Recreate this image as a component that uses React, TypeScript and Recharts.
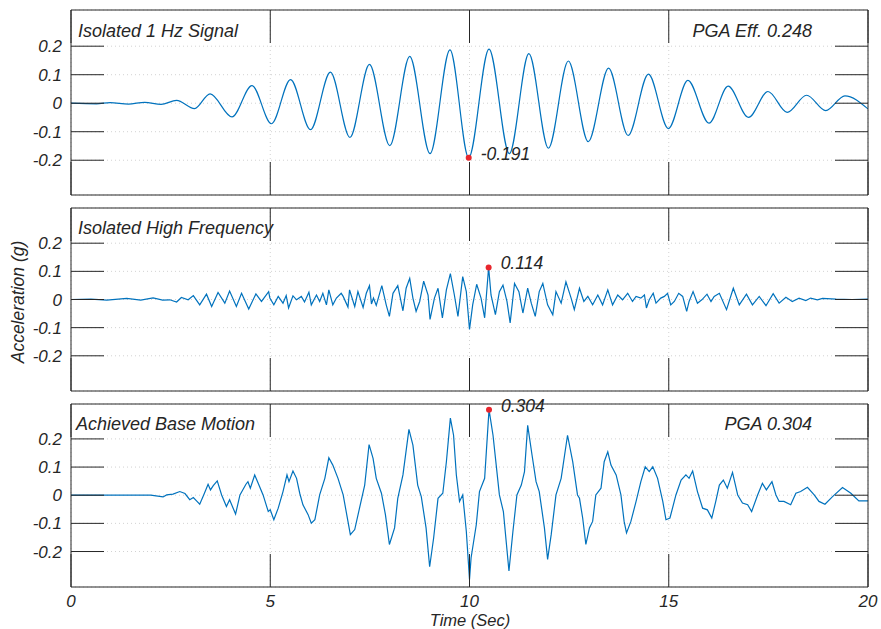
import React from "react";
import { LineChart, Line, XAxis, YAxis, CartesianGrid, ReferenceDot } from "recharts";

// tick values
const timeTicks = [0, 5, 10, 15, 20];
const accTicks = [-0.2, -0.1, 0, 0.1, 0.2];

// isolated 1 Hz signal (extrema)
const oneHzTime = [
  0, 0.64, 0.98, 1.44, 1.85, 2.26, 2.65, 3.1, 3.49, 4.04,
  4.54, 5.03, 5.51, 6.01, 6.51, 7.0, 7.49, 8.0, 8.5, 9.01,
  9.51, 9.98, 10.49, 11.0, 11.49, 11.98, 12.48, 12.98, 13.49, 13.98,
  14.49, 14.99, 15.48, 16.01, 16.49, 17.0, 17.49, 17.97, 18.46, 18.94,
  19.42, 20,
];
const oneHzAcc = [
  0, -0.002, 0.002, -0.003, 0.003, -0.004, 0.01, -0.019, 0.033, -0.048,
  0.062, -0.072, 0.083, -0.093, 0.109, -0.12, 0.136, -0.149, 0.164, -0.177,
  0.187, -0.191, 0.19, -0.177, 0.174, -0.158, 0.148, -0.135, 0.123, -0.113,
  0.102, -0.089, 0.08, -0.07, 0.06, -0.05, 0.041, -0.032, 0.028, -0.026,
  0.026, -0.02,
];

// isolated high frequency
const highFreqTime = [
  0, 0.5, 0.9, 1.4, 1.75, 2.06, 2.3, 2.48, 2.65, 2.77,
  2.94, 3.07, 3.23, 3.4, 3.53, 3.69, 3.86, 3.98, 4.15, 4.28,
  4.46, 4.64, 4.78, 4.96, 4.99, 5.09, 5.2, 5.32, 5.4, 5.46,
  5.57, 5.66, 5.78, 5.86, 5.97, 6.03, 6.16, 6.24, 6.32, 6.41,
  6.47, 6.57, 6.66, 6.78, 6.83, 6.95, 6.99, 7.12, 7.2, 7.33,
  7.41, 7.49, 7.54, 7.59, 7.66, 7.8, 7.91, 7.99, 8.08, 8.2,
  8.33, 8.41, 8.5, 8.58, 8.66, 8.75, 8.85, 8.96, 9.01, 9.12,
  9.21, 9.32, 9.42, 9.52, 9.62, 9.71, 9.83, 9.92, 10.0, 10.08,
  10.18, 10.29, 10.38, 10.48, 10.54, 10.65, 10.75, 10.84, 10.94, 11.02,
  11.13, 11.24, 11.34, 11.46, 11.55, 11.65, 11.75, 11.84, 11.96, 12.09,
  12.17, 12.3, 12.42, 12.55, 12.63, 12.76, 12.87, 12.97, 13.09, 13.22,
  13.34, 13.47, 13.59, 13.72, 13.84, 13.97, 14.09, 14.18, 14.3, 14.39,
  14.44, 14.51, 14.61, 14.68, 14.8, 14.89, 14.97, 15.05, 15.14, 15.25,
  15.35, 15.45, 15.51, 15.61, 15.72, 15.83, 15.96, 16.06, 16.14, 16.27,
  16.45, 16.62, 16.77, 16.95, 17.1, 17.27, 17.44, 17.62, 17.77, 17.94,
  18.1, 18.27, 18.44, 18.56, 18.73, 18.86, 19.2, 19.6, 20,
];
const highFreqAcc = [
  0, 0.001, -0.002, 0.004, -0.002, 0.006, -0.002, -0.001, -0.009, 0.007,
  -0.001, 0.014, -0.019, 0.019, -0.025, 0.025, -0.013, 0.03, -0.025, 0.022,
  -0.034, 0.02, -0.007, 0.028, 0.005, -0.019, 0.011, -0.013, 0.014, -0.03,
  0.013, -0.001, 0.011, -0.009, 0.026, -0.019, 0.016, -0.007, 0.022, -0.019,
  0.034, -0.019, 0.005, 0.022, 0.011, -0.027, 0.034, -0.025, 0.028, -0.028,
  0.022, 0.049, -0.016, 0.005, -0.021, 0.049, -0.019, -0.06, 0.022, 0.049,
  -0.04, 0.04, 0.075, 0.005, -0.042, -0.007, 0.065, 0.016, -0.071, 0.005,
  0.04, -0.065, 0.034, 0.092, 0.016, -0.06, 0.081, 0.028, -0.106, -0.019,
  0.054, 0.005, -0.065, 0.114, 0.016, -0.054, 0.028, 0.051, -0.007, -0.083,
  0.057, 0.028, -0.048, 0.04, -0.013, -0.06, 0.028, 0.057, -0.019, -0.054,
  0.028, -0.013, 0.063, 0.005, -0.036, 0.04, -0.007, 0.011, -0.019, 0.016,
  -0.019, 0.034, -0.019, 0.016, -0.001, 0.022, -0.007, 0.011, 0.005, 0.016,
  -0.03, -0.001, 0.022, -0.013, 0.005, 0.011, 0.022, -0.019, -0.007, 0.022,
  0.011, -0.042, -0.007, 0.028, -0.013, -0.001, 0.019, -0.007, 0.011, 0.022,
  -0.036, 0.04, -0.019, 0.019, -0.019, 0.011, -0.022, 0.021, -0.013, 0.008,
  -0.007, 0.005, -0.004, 0.005, -0.001, 0.004, 0.001, 0, 0.001,
];

// achieved base motion
const baseTime = [
  0, 2.0, 2.31, 2.4, 2.56, 2.73, 2.86, 2.98, 3.07, 3.15,
  3.23, 3.33, 3.44, 3.5, 3.57, 3.67, 3.78, 3.9, 3.98, 4.13,
  4.24, 4.39, 4.44, 4.5, 4.61, 4.7, 4.82, 4.95, 5.0, 5.09,
  5.2, 5.32, 5.42, 5.47, 5.57, 5.66, 5.74, 5.82, 5.95, 6.03,
  6.12, 6.24, 6.37, 6.47, 6.57, 6.7, 6.83, 6.95, 7.01, 7.12,
  7.24, 7.37, 7.48, 7.58, 7.66, 7.79, 7.89, 7.99, 8.12, 8.2,
  8.33, 8.48, 8.58, 8.7, 8.79, 8.91, 9.0, 9.1, 9.21, 9.33,
  9.42, 9.52, 9.6, 9.67, 9.75, 9.83, 9.92, 10.0, 10.04, 10.17,
  10.25, 10.38, 10.49, 10.59, 10.75, 10.85, 10.99, 11.09, 11.19, 11.3,
  11.38, 11.46, 11.57, 11.67, 11.75, 11.88, 11.96, 12.05, 12.17, 12.3,
  12.46, 12.59, 12.71, 12.76, 12.84, 12.92, 13.01, 13.09, 13.17, 13.3,
  13.38, 13.47, 13.55, 13.68, 13.8, 13.88, 13.94, 14.05, 14.18, 14.3,
  14.41, 14.51, 14.6, 14.72, 14.85, 14.93, 15.03, 15.18, 15.31, 15.43,
  15.51, 15.6, 15.72, 15.85, 15.97, 16.08, 16.18, 16.27, 16.37, 16.47,
  16.6, 16.73, 16.85, 16.98, 17.08, 17.23, 17.35, 17.45, 17.59, 17.69,
  17.77, 17.89, 18.06, 18.19, 18.31, 18.48, 18.65, 18.77, 18.92, 19.11,
  19.36, 19.57, 19.77, 20,
];
const baseAcc = [
  0, 0, -0.006, 0.001, 0.004, 0.013, 0.006, -0.016, -0.008, -0.02,
  -0.032, 0.001, 0.039, 0.019, 0.034, 0.051, 0.001, -0.04, -0.016, -0.067,
  0.001, 0.039, 0.048, 0.025, 0.072, 0.042, 0.001, -0.058, -0.052, -0.087,
  -0.046, 0.013, 0.072, 0.048, 0.086, 0.06, 0.007, -0.034, -0.069, -0.099,
  -0.087, 0.001, 0.06, 0.133, 0.107, 0.06, 0.001, -0.093, -0.14, -0.122,
  -0.046, 0.036, 0.18, 0.131, 0.06, 0.007, -0.069, -0.175, -0.116, -0.011,
  0.072, 0.234, 0.178, 0.036, -0.005, -0.116, -0.254, -0.152, -0.011, 0.007,
  0.119, 0.274, 0.213, 0.072, -0.022, 0.001, -0.128, -0.299, -0.222, -0.105,
  0.013, 0.06, 0.304, 0.213, 0.001, -0.058, -0.269, -0.128, 0.001, 0.036,
  0.084, 0.248, 0.142, 0.048, 0.013, -0.116, -0.228, -0.14, 0.001, 0.06,
  0.213, 0.119, 0.001, -0.011, -0.081, -0.175, -0.116, -0.093, 0.001, 0.025,
  0.119, 0.154, 0.107, 0.072, 0.001, -0.093, -0.134, -0.093, -0.022, 0.048,
  0.101, 0.084, 0.101, 0.06, -0.022, -0.087, -0.081, 0.001, 0.054, 0.072,
  0.06, 0.086, 0.013, -0.046, -0.052, -0.081, -0.022, 0.036, 0.054, 0.025,
  0.081, 0.001, -0.028, -0.034, -0.058, 0.001, 0.042, 0.019, 0.048, 0.001,
  -0.022, -0.022, -0.034, 0.007, 0.013, 0.028, 0.001, -0.022, -0.032, -0.005,
  0.027, 0.007, -0.02, -0.02,
];

const INK = "#262626";
const BLUE = "#0072bd";
const PEAK = "#e8262d";
const FONT = "'Liberation Sans', Arial, Helvetica, sans-serif";
const TICK_LEN = 33;

const toRows = (t: number[], a: number[]) => t.map((v, i) => ({ t: v, a: a[i] }));

function peakIndex(a: number[], sign: number) {
  let best = 0;
  a.forEach((v, i) => {
    if (v * sign > a[best] * sign) best = i;
  });
  return best;
}

const textStyle = { fontFamily: FONT, fontStyle: "italic" as const, fill: INK };

function BottomTick({ x, y, payload, withLabel }: any) {
  return (
    <g>
      <line x1={x} y1={y} x2={x} y2={y - TICK_LEN} stroke={INK} />
      {withLabel && (
        <text x={x} y={y + 19.5} textAnchor="middle" fontSize={17} {...textStyle}>
          {payload.value}
        </text>
      )}
    </g>
  );
}

const TopTick = ({ x, y }: any) => <line x1={x} y1={y} x2={x} y2={y + TICK_LEN} stroke={INK} />;

function LeftTick({ x, y, payload }: any) {
  return (
    <g>
      <line x1={x} y1={y} x2={x + TICK_LEN} y2={y} stroke={INK} />
      <text x={x - 9} y={y + 6} textAnchor="end" fontSize={17} {...textStyle}>
        {payload.value}
      </text>
    </g>
  );
}

const RightTick = ({ x, y }: any) => <line x1={x} y1={y} x2={x - TICK_LEN} y2={y} stroke={INK} />;

interface PanelProps {
  top: number;
  height: number;
  margin: { top: number; right: number; bottom: number; left: number };
  xAxisHeight: number;
  domain: [number, number];
  time: number[];
  acc: number[];
  curve: "monotone" | "linear";
  peakSign: number;
  showX?: boolean;
}

function Panel({ top, height, margin, xAxisHeight, domain, time, acc, curve, peakSign, showX }: PanelProps) {
  const data = toRows(time, acc);
  const pi = peakIndex(acc, peakSign);
  const common = {
    type: "number" as const,
    allowDataOverflow: true,
    interval: 0 as const,
    tickSize: 0,
    tickMargin: 0,
    tickLine: false,
    axisLine: { stroke: INK },
  };
  return (
    <div style={{ position: "absolute", left: 0, top }}>
      <LineChart width={881} height={height} data={data} margin={margin}>
        <CartesianGrid stroke="#d2d2d2" strokeDasharray="1 3" />
        <XAxis {...common} dataKey="t" domain={[0, 20]} ticks={timeTicks} height={xAxisHeight}
          tick={(p: any) => <BottomTick {...p} withLabel={showX} />} />
        <XAxis {...common} xAxisId="top" orientation="top" dataKey="t" domain={[0, 20]} ticks={timeTicks} height={1}
          tick={(p: any) => <TopTick {...p} />} />
        <YAxis {...common} domain={domain} ticks={accTicks} width={60} tick={(p: any) => <LeftTick {...p} />} />
        <YAxis {...common} yAxisId="right" orientation="right" domain={domain} ticks={accTicks} width={1}
          tick={(p: any) => <RightTick {...p} />} />
        <Line dataKey="a" type={curve} stroke={BLUE} strokeWidth={1.2} dot={false} isAnimationActive={false} />
        <ReferenceDot
          x={time[pi]}
          y={acc[pi]}
          r={3}
          fill={PEAK}
          stroke="none"
          label={(p: any) => {
            const vb = p.viewBox || {};
            const cx = vb.x + (vb.width || 0) / 2;
            const cy = vb.y + (vb.height || 0) / 2;
            return (
              <text x={cx + 12} y={cy + 2} fontSize={17.5} {...textStyle}>
                {acc[pi].toFixed(3)}
              </text>
            );
          }}
        />
      </LineChart>
    </div>
  );
}

export default function App() {
  return (
    <div style={{ position: "absolute", left: 0, top: 0, width: 881, height: 629, background: "#fff" }}>
      <Panel top={0} height={200} margin={{ top: 9, right: 12, bottom: 4, left: 11 }} xAxisHeight={1}
        domain={[-0.322, 0.327]} time={oneHzTime} acc={oneHzAcc} curve="monotone" peakSign={-1} />
      <Panel top={200} height={200} margin={{ top: 7, right: 12, bottom: 8, left: 11 }} xAxisHeight={1}
        domain={[-0.325, 0.325]} time={highFreqTime} acc={highFreqAcc} curve="linear" peakSign={1} />
      <Panel top={390} height={239} margin={{ top: 13, right: 12, bottom: 0, left: 11 }} xAxisHeight={42}
        domain={[-0.326, 0.324]} time={baseTime} acc={baseAcc} curve="linear" peakSign={1} showX />
      <svg width={881} height={629} style={{ position: "absolute", left: 0, top: 0, pointerEvents: "none" }}>
        <g {...textStyle} fontSize={18}>
          <text x={78} y={37}>Isolated 1 Hz Signal</text>
          <text x={812} y={37} textAnchor="end">PGA Eff. 0.248</text>
          <text x={78} y={233.5}>Isolated High Frequency</text>
          <text x={76} y={430}>Achieved Base Motion</text>
          <text x={812} y={430} textAnchor="end">PGA 0.304</text>
        </g>
        <g {...textStyle} fontSize={16.5}>
          <text x={470} y={625.5} textAnchor="middle">Time (Sec)</text>
          <text transform="translate(24,302) rotate(-90)" textAnchor="middle" fontSize={17.5}>Acceleration (g)</text>
        </g>
      </svg>
    </div>
  );
}
